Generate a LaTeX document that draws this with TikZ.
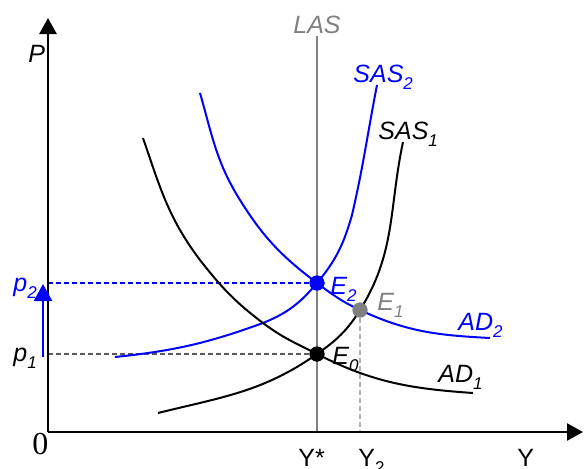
\documentclass[tikz,border=0pt]{standalone}
\usepackage{fontspec}
\setmainfont{Liberation Sans}
\newfontfamily\timesf{Liberation Serif}
\usetikzlibrary{arrows.meta}
\definecolor{pblue}{RGB}{0,0,255}
\definecolor{lasgray}{RGB}{128,128,128}
\definecolor{lightdash}{RGB}{175,175,175}
\definecolor{darkdash}{RGB}{90,90,90}
\newcommand{\sbs}[1]{\raisebox{-0.28em}{\fontsize{8.5}{8.5}\selectfont #1}}
\begin{document}
\begin{tikzpicture}[x=0.5pt,y=-0.5pt,
  axis/.style={line width=1.25pt,-{Triangle[length=8pt,width=8.5pt]}},
  curve/.style={line width=1pt},
  guide/.style={line width=0.6pt,dash pattern=on 2.5pt off 1.5pt},
  dot/.style={circle,inner sep=0pt,minimum size=7.5pt},
  lab/.style={anchor=base west,inner sep=0pt,font=\fontsize{12.5}{14}\selectfont\itshape},
  rlab/.style={anchor=base west,inner sep=0pt,font=\fontsize{12.5}{14}\selectfont}]
\useasboundingbox (0,0) rectangle (584,468);
% coordinates
\coordinate (O) at (48,432);
\coordinate (Ytop) at (48,18);
\coordinate (Xend) at (583,432);
\coordinate (LAStop) at (317,36);
\coordinate (LASbot) at (317,432);
\coordinate (Y2bot) at (360,432);
\coordinate (P1ax) at (48,354);
\coordinate (P2ax) at (48,283);
\coordinate (ArrS) at (43,357);
\coordinate (ArrE) at (43,284);
% LAS
\draw[lasgray,line width=1pt] (LAStop) -- (LASbot);
% dots (nodes)
\node[dot,fill=black] (E0) at (317,354) {};
\node[dot,fill=pblue] (E2) at (317,283) {};
\node[dot,fill=lasgray] (E1) at (360,310) {};
% guides
\draw[guide,darkdash] (P1ax) -- (E0.center);
\draw[guide,pblue] (P2ax) -- (E2.center);
\draw[guide,lightdash] (E1.center) -- (Y2bot);
% curves
% SAS1
\draw[curve,black] (158,413) to[out=14,in=215] (E0.center) to[out=35,in=238] (E1.center) to[out=58,in=258] (403,142);
% SAS2
\draw[curve,pblue] (115,357) to[out=6,in=200] (263,323) to[out=22,in=230] (E2.center) to[out=50,in=254] (352,215) to[out=77,in=259] (377,85);
% AD2
\draw[curve,pblue] (200,93) to[out=-74,in=122] (240,200) to[out=-58,in=143] (E2.center) to[out=-37,in=155] (E1.center) to[out=-25,in=177] (490,338);
% AD1
\draw[curve,black] (143,138) to[out=-71,in=127] (200,260) to[out=-52,in=143] (263,323) to[out=-37,in=153] (E0.center) to[out=-27,in=176] (473,393);
% dots redrawn on top
\node[dot,fill=black] at (E0) {};
\node[dot,fill=pblue] at (E2) {};
\node[dot,fill=lasgray] at (E1) {};
% axes
\draw[axis] (O) -- (Ytop);
\draw[axis] (O) -- (Xend);
% shift arrow
\draw[pblue,line width=1.2pt,-{Triangle[length=8.5pt,width=9pt]}] (ArrS) -- (ArrE);
% labels
\node[lab,lasgray] (tLAS) at (293,33) {LAS};
\node[lab] (tP) at (28,62) {P};
\node[lab,pblue] (tSAS2) at (353,82) {SAS\sbs{2}};
\node[lab] (tSAS1) at (378,139) {SAS\sbs{1}};
\node[lab,pblue] (tp2) at (13,291) {p\sbs{2}};
\node[lab] (tp1) at (13,361) {p\sbs{1}};
\node[lab,pblue] (tE2) at (330,294) {E\sbs{2}};
\node[lab,lasgray] (tE1) at (377,310) {E\sbs{1}};
\node[lab] (tE0) at (332,364) {E\sbs{0}};
\node[lab,pblue] (tAD2) at (458,330) {AD\sbs{2}};
\node[lab] (tAD1) at (438,382) {AD\sbs{1}};
\node[anchor=base west,inner sep=0pt,font=\timesf\fontsize{16}{18}\selectfont] (t0) at (32,454) {0};
\node[rlab] (tYs) at (298,466) {Y*};
\node[rlab] (tY2) at (358,466) {Y\sbs{2}};
\node[rlab] (tY) at (517,466) {Y};
\end{tikzpicture}
\end{document}
